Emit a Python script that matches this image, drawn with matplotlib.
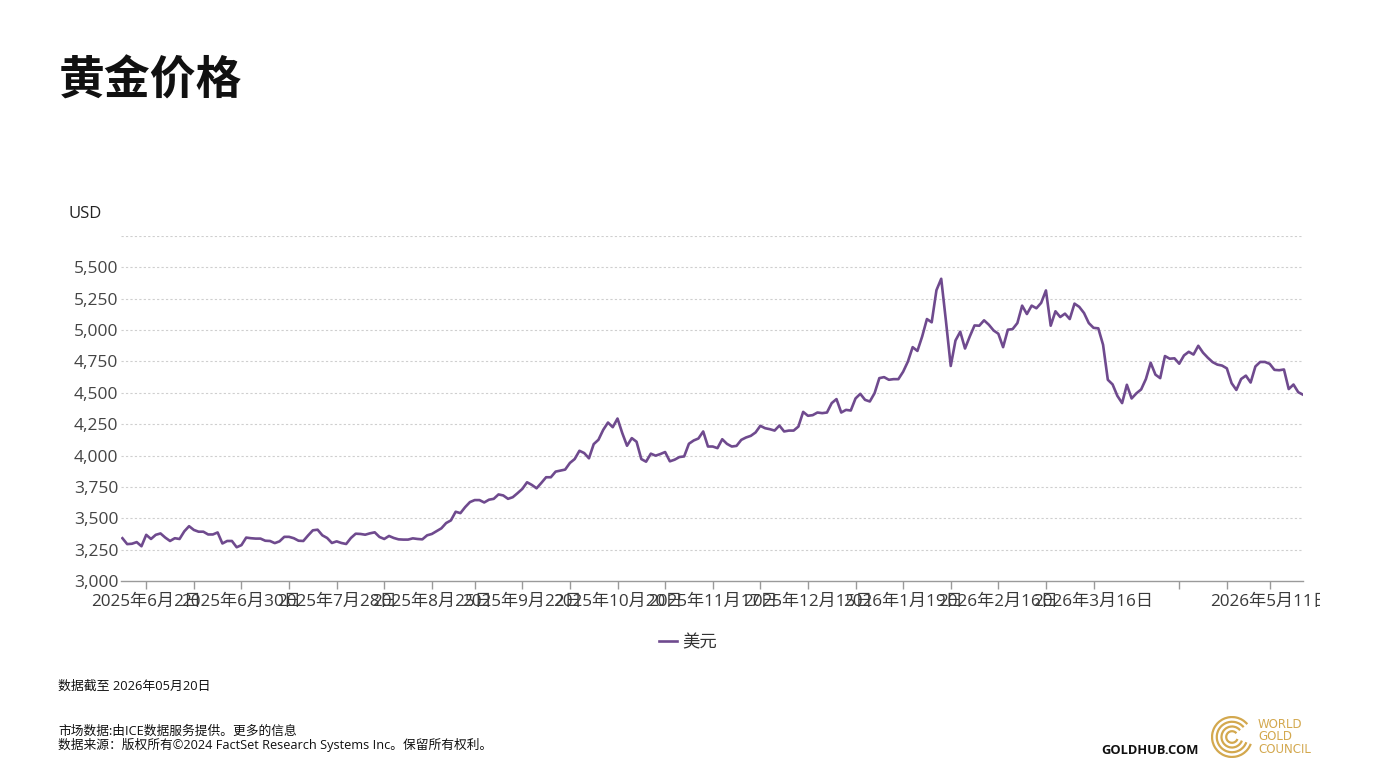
import matplotlib
matplotlib.use("Agg")
import matplotlib.pyplot as plt
from matplotlib.patches import Arc
from matplotlib.transforms import Bbox, TransformedBbox

plt.rcParams['font.family'] = ['Open Sans', 'Noto Sans CJK SC', 'DejaVu Sans']

# ---------------- data ----------------
prices = [
    3341, 3294, 3297, 3310, 3277, 3368, 3335, 3368, 3379, 3346,
    3319, 3341, 3335, 3396, 3437, 3407, 3393, 3393, 3371, 3371,
    3387, 3299, 3319, 3319, 3269, 3286, 3346, 3341, 3338, 3338,
    3321, 3319, 3302, 3316, 3352, 3352, 3341, 3321, 3319, 3363,
    3404, 3409, 3364, 3343, 3303, 3316, 3303, 3295, 3343, 3377,
    3375, 3369, 3380, 3388, 3351, 3335, 3359, 3343, 3332, 3330,
    3330, 3340, 3335, 3332, 3364, 3375, 3398, 3420, 3462, 3483,
    3552, 3541, 3589, 3629, 3645, 3645, 3626, 3648, 3655, 3690,
    3682, 3655, 3668, 3700, 3734, 3787, 3766, 3739, 3782, 3827,
    3827, 3872, 3880, 3888, 3941, 3972, 4038, 4020, 3978, 4091,
    4126, 4205, 4263, 4226, 4295, 4179, 4078, 4139, 4110, 3972,
    3951, 4015, 3999, 4012, 4028, 3954, 3967, 3988, 3993, 4094,
    4120, 4136, 4192, 4072, 4072, 4059, 4130, 4093, 4072, 4077,
    4125, 4144, 4157, 4184, 4237, 4218, 4210, 4199, 4239, 4192,
    4199, 4199, 4231, 4348, 4317, 4322, 4343, 4338, 4343, 4418,
    4450, 4343, 4364, 4359, 4455, 4492, 4444, 4431, 4497, 4617,
    4625, 4604, 4609, 4609, 4668, 4749, 4864, 4834, 4949, 5088,
    5062, 5318, 5409, 5070, 4714, 4917, 4987, 4853, 4949, 5037,
    5035, 5078, 5043, 4997, 4971, 4864, 5003, 5008, 5056, 5195,
    5128, 5195, 5174, 5217, 5316, 5035, 5150, 5104, 5131, 5088,
    5211, 5185, 5136, 5056, 5018, 5014, 4883, 4604, 4567, 4476,
    4418, 4564, 4455, 4496, 4527, 4610, 4740, 4645, 4617, 4793,
    4772, 4775, 4732, 4798, 4827, 4805, 4875, 4820, 4780, 4745,
    4725, 4717, 4695, 4577, 4523, 4610, 4637, 4582, 4710, 4746,
    4746, 4731, 4683, 4680, 4686, 4530, 4566, 4505, 4485,
]
# trading-day positions of the x ticks and their labels ('' = unlabeled tick)
tick_pos = [5, 15, 25, 35, 45, 55, 65, 74, 84, 94, 104, 114, 124, 134,
            144, 154, 164, 174, 184, 194, 204, 222, 232, 241]
tick_labels = ['2025年6月2日', '', '2025年6月30日', '', '2025年7月28日', '',
               '2025年8月25日', '', '2025年9月22日', '', '2025年10月20日', '',
               '2025年11月17日', '', '2025年12月15日', '', '2026年1月19日', '',
               '2026年2月16日', '', '2026年3月16日', '', '', '2026年5月11日']
y_ticks = [3000, 3250, 3500, 3750, 4000, 4250, 4500, 4750, 5000, 5250, 5500]
y_grid = y_ticks[1:] + [5750]
series_name = '美元'
unit = 'USD'
title = '黄金价格'
note_date = '数据截至 2026年05月20日'
source_1 = '市场数据:由ICE数据服务提供。更多的信息'
source_2 = '数据来源：版权所有©2024 FactSet Research Systems Inc。保留所有权利。'

# ---------------- figure ----------------
W, H = 1379, 776
fig = plt.figure(figsize=(W / 100, H / 100), dpi=100)
fig.patch.set_facecolor('white')

def fx(px):
    return px / W

def fy(py):
    return 1 - py / H

ax = fig.add_axes([fx(121), fy(581), fx(1303) - fx(121), fy(236) - fy(581)])
x = list(range(len(prices)))
line_color = '#6F4A8E'
ax.plot(x, prices, color=line_color, lw=1.9, solid_joinstyle='round', label=series_name, zorder=3)

ax.set_xlim(-0.3, len(prices) - 1)
ax.set_ylim(3000, 5750)

for g in y_grid:
    ax.axhline(g, color='#cfcfcf', lw=0.8, ls=(0, (2, 2)), zorder=1)

ax.set_yticks(y_ticks)
ax.set_yticklabels([f'{v:,}' for v in y_ticks])
ax.tick_params(axis='y', length=0, pad=2, labelsize=12.5, labelcolor='#444444')
for t in ax.get_yticklabels():
    t.set_y(t.get_position()[1])

ax.set_xticks(tick_pos)
ax.set_xticklabels(tick_labels)
ax.tick_params(axis='x', length=6, width=1, color='#9a9a9a', pad=3,
               labelsize=12.3, labelcolor='#3a3a3a', direction='out')

for s in ['left', 'right', 'top']:
    ax.spines[s].set_visible(False)
ax.spines['bottom'].set_color('#9a9a9a')
ax.spines['bottom'].set_linewidth(1)

# clip tick labels at the right like the reference
clipbox = TransformedBbox(Bbox([[0, 0], [fx(1320), 1]]), fig.transFigure)
for t in ax.get_xticklabels():
    t.set_clip_on(True)
    t.set_clip_box(clipbox)

# title & unit
fig.text(fx(59), fy(82), title, fontsize=33, fontweight='bold', color='#111111',
         ha='left', va='center', family=['Noto Sans CJK SC', 'DejaVu Sans'])
fig.text(fx(68), fy(214), unit, fontsize=12, color='#222222', ha='left', va='center')

# legend
fig.legend(loc='center', bbox_to_anchor=(fx(688), fy(643)), frameon=False,
           handlelength=1.0, handletextpad=0.3, fontsize=12.5, labelcolor='#333333')

# footer
fig.text(fx(58), fy(686), note_date, fontsize=9.3, color='#111111', ha='left', va='center')
fig.text(fx(58), fy(731), source_1, fontsize=9.2, color='#111111', ha='left', va='center')
fig.text(fx(58), fy(745), source_2, fontsize=9.2, color='#111111', ha='left', va='center')
fig.text(fx(1101), fy(750), 'GOLDHUB.COM', fontsize=9.3, fontweight='bold',
         color='#111111', ha='left', va='center')

# World Gold Council logo (simple rings + text)
gold = '#D3A84E'
lax = fig.add_axes([fx(1211), fy(759), fx(1253) - fx(1211), fy(715) - fy(759)])
lax.set_xlim(-1, 1)
lax.set_ylim(-1, 1)
lax.set_aspect('equal')
lax.axis('off')
for r in [1.9, 1.45, 1.0, 0.55]:
    lax.add_patch(Arc((0, 0), r, r, theta1=40, theta2=340, color=gold, lw=1.6))
fig.text(fx(1258), fy(737), 'WORLD\nGOLD\nCOUNCIL', fontsize=8.5, color=gold,
         ha='left', va='center', linespacing=0.95, family=['Liberation Sans Narrow', 'DejaVu Sans'])

fig.savefig('out.png', dpi=100, facecolor='white')
